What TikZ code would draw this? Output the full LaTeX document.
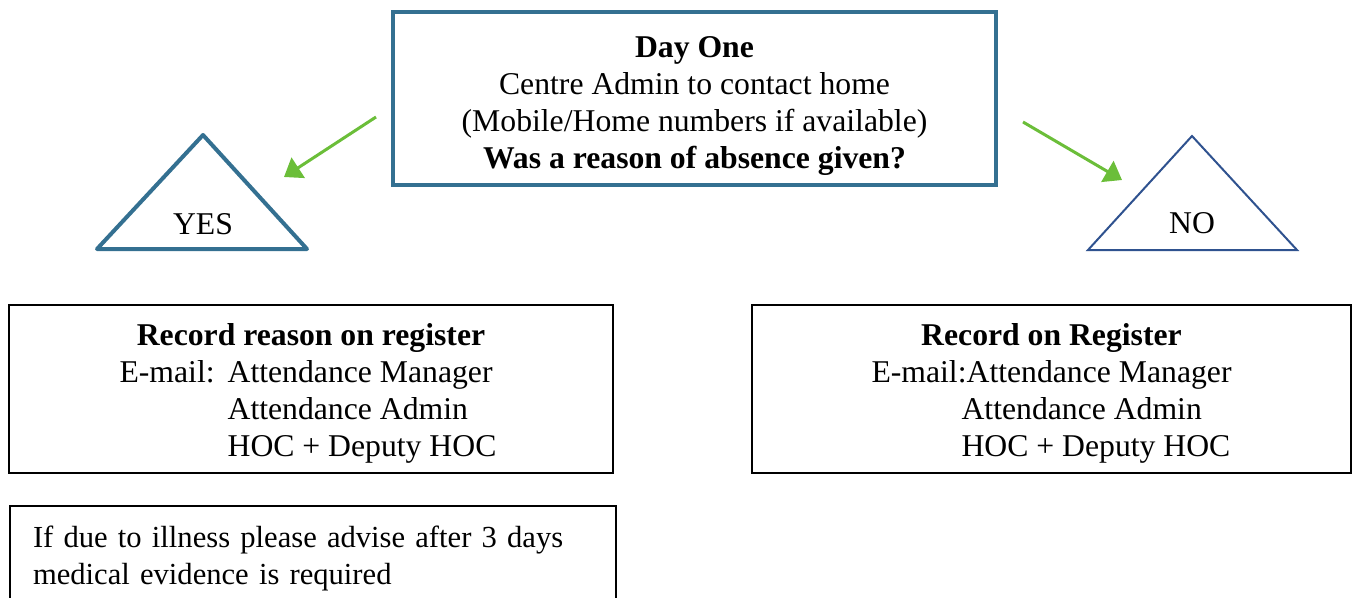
\documentclass[tikz,border=0pt]{standalone}
\usepackage{fontspec}
\setmainfont{Liberation Serif}
\usetikzlibrary{arrows.meta}

\definecolor{boxblue}{RGB}{52,112,145}
\definecolor{triblue}{RGB}{47,82,143}
\definecolor{arrowgreen}{RGB}{107,190,57}

% extra height on a first line, to sit the text lower in its box
\newcommand{\toppad}[1]{\rule{0pt}{#1}}

\tikzset{
  bodyfont/.style={font=\fontsize{31.7}{37}\selectfont},
  notefont/.style={font=\fontsize{30.6}{37}\selectfont},
  decisionbox/.style={draw=boxblue, line width=4pt, rectangle, bodyfont,
    align=center, inner sep=0pt},
  recordbox/.style={draw=black, line width=2pt, rectangle, bodyfont,
    align=center, inner sep=0pt},
  notebox/.style={draw=black, line width=2pt, rectangle, notefont,
    align=left, inner xsep=23pt, inner ysep=0pt},
  yestri/.style={draw=boxblue, line width=4pt, line join=round},
  notri/.style={draw=triblue, line width=2pt, line join=miter},
  trilabel/.style={bodyfont, inner sep=0pt},
  flow/.style={draw=arrowgreen, line width=3pt,
    -{Triangle[length=17pt,width=24pt]}, fill=arrowgreen},
}

\begin{document}
\begin{tikzpicture}[x=1pt,y=-1pt]
  \useasboundingbox (0,0) rectangle (1357,597);

  % question box
  \node[decisionbox, minimum width=603pt, minimum height=173pt] (day) at (694.5,98.5)
    {\toppad{36pt}\textbf{Day One}\\
     Centre Admin to contact home\\
     (Mobile/Home numbers if available)\\
     \textbf{Was a reason of absence given?}};

  % YES / NO triangles
  \coordinate (yesapex) at (203,135);
  \coordinate (yesright) at (307,249);
  \coordinate (yesleft) at (97,249);
  \draw[yestri] (yesapex) -- (yesright) -- (yesleft) -- cycle;
  \node[trilabel] (yes) at (203,224.5) {YES};

  \coordinate (noapex) at (1192,136);
  \coordinate (noright) at (1297,250);
  \coordinate (noleft) at (1088,250);
  \draw[notri] (noapex) -- (noright) -- (noleft) -- cycle;
  \node[trilabel] (no) at (1192,223.5) {NO};

  % green arrows
  \coordinate (ytail) at (376,117);
  \coordinate (yhead) at (284,177);
  \coordinate (ntail) at (1023,122);
  \coordinate (nhead) at (1122,180);
  \draw[flow] (ytail) -- (yhead);
  \draw[flow] (ntail) -- (nhead);

  % record boxes
  \node[recordbox, minimum width=604pt, minimum height=168pt] (yesrec) at (311,389)
    {\toppad{36pt}\textbf{Record reason on register}\\
     \hspace*{-6pt}\begin{tabular}[t]{@{}l@{\hspace{13pt}}l@{}}
       E-mail: & Attendance Manager\\
               & Attendance Admin\\
               & HOC + Deputy HOC
     \end{tabular}};

  \node[recordbox, minimum width=599pt, minimum height=168pt] (norec) at (1051.5,389)
    {\toppad{36pt}\textbf{Record on Register}\\
     \begin{tabular}[t]{@{}l@{}l@{}}
       E-mail: & Attendance Manager\\
               & \hspace*{-5pt}Attendance Admin\\
               & \hspace*{-5pt}HOC + Deputy HOC
     \end{tabular}};

  % illness note
  \node[notebox, text width=560pt, minimum width=606pt, minimum height=99pt] (illness) at (313,555.5)
    {\toppad{27pt}If due to illness please advise after 3 days\\
     medical evidence is required};
\end{tikzpicture}
\end{document}
